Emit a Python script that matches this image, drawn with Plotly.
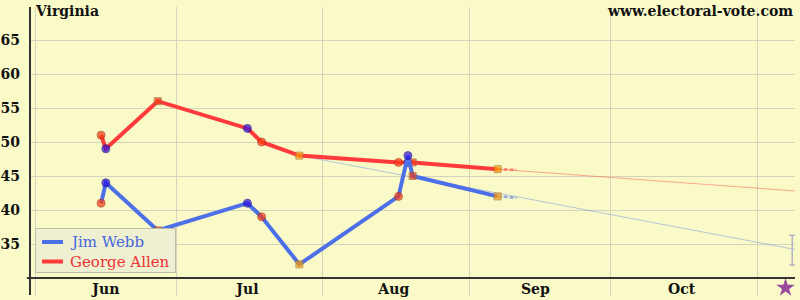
import plotly.graph_objects as go

# ---- data ----
poll_dates = ["2006-06-15", "2006-06-16", "2006-06-27", "2006-07-16", "2006-07-19",
              "2006-07-27", "2006-08-17", "2006-08-19", "2006-08-20", "2006-09-07"]
webb = [41, 44, 37, 41, 39, 32, 42, 48, 45, 42]
allen = [51, 49, 56, 52, 50, 48, 47, 47, 47, 46]
pollster = ["rc", "bc", "rs", "bc", "rc", "os", "rc", "bc", "rs", "os"]

webb_proj_x = ["2006-07-27", "2006-11-09"]
webb_proj_y = [48, 34.2]
allen_proj_x = ["2006-09-07", "2006-11-09"]
allen_proj_y = [46, 42.8]
webb_tail_x = ["2006-09-07", "2006-09-11"]
webb_tail_y = [42, 41.8]
allen_tail_x = ["2006-09-07", "2006-09-11"]
allen_tail_y = [46, 45.9]

err_x = ["2006-11-08T10:00"]
err_y = [34.1]
err_size = [2.2]

election_x = ["2006-11-07"]
election_y = [28.55]

month_starts = ["2006-06-01", "2006-07-01", "2006-08-01", "2006-09-01", "2006-10-01", "2006-11-01"]
month_mids = ["2006-06-16", "2006-07-16", "2006-08-16", "2006-09-15", "2006-10-16"]
month_labels = ["Jun", "Jul", "Aug", "Sep", "Oct"]
y_ticks = [35, 40, 45, 50, 55, 60, 65]
y_axis_base = 30

names = ["Jim Webb", "George Allen"]
state = "Virginia"
site = "www.electoral-vote.com"

# ---- styles ----
FONT = "DejaVu Serif"
BG = "#fafac8"
GRID = "#d4d4be"
AX = "#333333"
WEBB_C = "#4d6fe8"
ALLEN_C = "#ff3a3a"
sym_map = {"rc": "circle", "bc": "circle", "rs": "square", "os": "square"}
fill_map = {"rc": "#ff3a10", "bc": "#2a10e0", "rs": "#f03a18", "os": "#ff9a00"}
edge_map = {"rc": "#a83010", "bc": "#1a0a90", "rs": "#a06030", "os": "#a87a40"}
size_map = {"rc": 8, "bc": 8, "rs": 7, "os": 7}

def marker():
    return dict(symbol=[sym_map[p] for p in pollster],
                color=[fill_map[p] for p in pollster],
                size=[size_map[p] for p in pollster],
                line=dict(color=[edge_map[p] for p in pollster], width=1))

W, H = 800, 300
L, R, T, B = 30, 5, 7, 4
pw, ph = W - L - R, H - T - B
AXIS_PX = 278            # pixel row of the x axis line
PX_PER_UNIT = 6.8
y_lo = y_axis_base - (H - B - AXIS_PX) / PX_PER_UNIT
y_hi = y_lo + ph / PX_PER_UNIT

def px(x):
    return (x - L) / pw

def py(y):
    return (H - B - y) / ph

fig = go.Figure()
# projections (faint)
fig.add_trace(go.Scatter(x=webb_proj_x, y=webb_proj_y, mode="lines",
                         line=dict(color="rgba(100,130,230,0.45)", width=1), hoverinfo="skip"))
fig.add_trace(go.Scatter(x=allen_proj_x, y=allen_proj_y, mode="lines",
                         line=dict(color="rgba(255,90,70,0.5)", width=1), hoverinfo="skip"))
fig.add_trace(go.Scatter(x=allen_tail_x, y=allen_tail_y, mode="lines",
                         line=dict(color="rgba(255,60,60,0.6)", width=2.5, dash="4px,2px"), hoverinfo="skip"))
fig.add_trace(go.Scatter(x=webb_tail_x, y=webb_tail_y, mode="lines",
                         line=dict(color="rgba(80,110,230,0.6)", width=2.5, dash="4px,2px"), hoverinfo="skip"))
# main series
fig.add_trace(go.Scatter(x=poll_dates, y=allen, mode="lines+markers", name=names[1],
                         line=dict(color=ALLEN_C, width=4), marker=marker()))
fig.add_trace(go.Scatter(x=poll_dates, y=webb, mode="lines+markers", name=names[0],
                         line=dict(color=WEBB_C, width=4), marker=marker()))
# error bar at election end
fig.add_trace(go.Scatter(x=err_x, y=err_y, mode="markers", marker=dict(size=1, color="rgba(0,0,0,0)"),
                         error_y=dict(type="data", array=err_size, color="#b4b4c4", thickness=1.5, width=3),
                         hoverinfo="skip"))
# election day star (on the label axis)
fig.add_trace(go.Scatter(x=election_x, y=election_y, mode="markers", xaxis="x2",
                         marker=dict(symbol="star", size=14, color="#9a4a9e"),
                         hoverinfo="skip"))

shapes = [
    # left axis line (extends below the axis)
    dict(type="line", xref="paper", yref="paper", x0=0, x1=0, y0=py(295), y1=1,
         line=dict(color=AX, width=2), layer="above"),
    # bottom axis line at y = 30
    dict(type="line", xref="paper", yref="y", x0=px(27), x1=1, y0=y_axis_base, y1=y_axis_base,
         line=dict(color=AX, width=2), layer="above"),
    # legend box
    dict(type="rect", xref="paper", yref="paper", x0=px(35.5), x1=px(175.5), y0=py(272.5), y1=py(228.5),
         fillcolor="#efefd2", line=dict(color="#bcbca8", width=1), layer="above"),
    dict(type="line", xref="paper", yref="paper", x0=px(42), x1=px(63), y0=py(242), y1=py(242),
         line=dict(color=WEBB_C, width=4), layer="above"),
    dict(type="line", xref="paper", yref="paper", x0=px(42), x1=px(63), y0=py(261.5), y1=py(261.5),
         line=dict(color=ALLEN_C, width=4), layer="above"),
]

annotations = [
    dict(text=state, xref="paper", yref="paper", x=px(33), y=py(11), xanchor="left", yanchor="middle",
         showarrow=False, font=dict(family=FONT, size=14, color="#111111", weight="bold")),
    dict(text=site, xref="paper", yref="paper", x=px(795), y=py(11), xanchor="right", yanchor="middle",
         showarrow=False, font=dict(family=FONT, size=14, color="#111111", weight="bold")),
    dict(text=names[0], xref="paper", yref="paper", x=px(68), y=py(242), xanchor="left", yanchor="middle",
         showarrow=False, font=dict(family=FONT, size=15, color="#4466dd")),
    dict(text=names[1], xref="paper", yref="paper", x=px(68), y=py(262), xanchor="left", yanchor="middle",
         showarrow=False, font=dict(family=FONT, size=15, color="#ee3333")),
]

x_range = ["2006-05-30T22:30", "2006-11-09T00:00"]

fig.update_layout(
    width=W, height=H,
    margin=dict(l=L, r=R, t=T, b=B, pad=0, autoexpand=False),
    paper_bgcolor=BG, plot_bgcolor=BG,
    showlegend=False,
    shapes=shapes,
    annotations=annotations,
    xaxis=dict(
        type="date", range=x_range, automargin=False,
        tickmode="array", tickvals=month_starts,
        showticklabels=False, ticks="",
        showgrid=True, gridcolor=GRID, gridwidth=1,
        showline=False, zeroline=False, fixedrange=True,
    ),
    xaxis2=dict(
        type="date", range=x_range, overlaying="x", anchor="free", position=py(AXIS_PX),
        side="bottom", automargin=False,
        tickmode="array", tickvals=month_mids, ticktext=month_labels,
        ticks="", showgrid=False, showline=False, zeroline=False,
        tickfont=dict(family=FONT, size=14, color="#111111", weight="bold"),
        ticklabelstandoff=1, fixedrange=True,
    ),
    yaxis=dict(
        range=[y_lo, y_hi], automargin=False,
        tickmode="array", tickvals=y_ticks,
        ticks="", showgrid=True, gridcolor=GRID, gridwidth=1,
        showline=False, zeroline=False,
        tickfont=dict(family=FONT, size=14, color="#111111", weight="bold"),
        ticklabelstandoff=9, fixedrange=True,
    ),
)

fig.write_html("out.html")
